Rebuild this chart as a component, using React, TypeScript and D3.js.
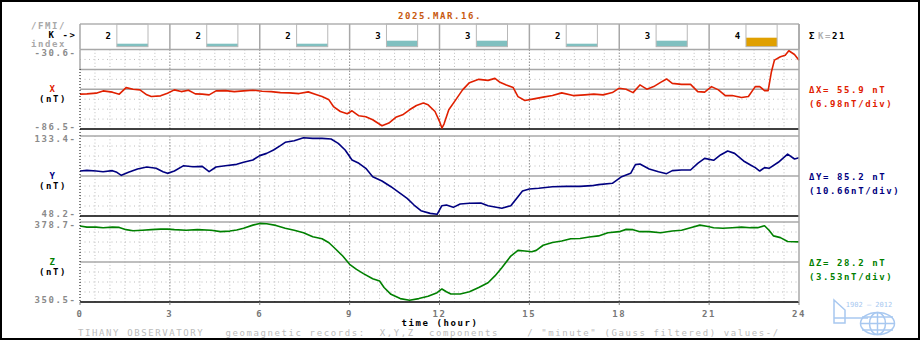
import React from 'react';
import * as d3 from 'd3';

// K-index per 3-hour block
const kIndex = [2, 2, 2, 3, 3, 2, 3, 4];
const kSum = 21;
const hourTicks = [0, 3, 6, 9, 12, 15, 18, 21, 24];

// [hour, nT]
const xComp: [number, number][] = [
  [0, -62.0], [0.23, -61.8], [0.54, -61.3], [0.77, -59.7], [1.08, -60.6], [1.31, -62.0], [1.54, -57.4], [1.77, -58.5],
  [2.0, -59.0], [2.23, -62.5], [2.38, -63.7], [2.69, -63.2], [2.92, -61.3], [3.15, -59.0], [3.38, -60.2], [3.62, -59.2],
  [3.85, -61.8], [4.08, -62.0], [4.31, -62.5], [4.54, -59.7], [4.85, -59.5], [5.15, -60.2], [5.46, -59.7], [5.77, -59.2],
  [6.08, -60.0], [6.38, -60.2], [6.69, -60.9], [7.0, -61.1], [7.31, -61.6], [7.62, -60.4], [7.85, -62.0], [8.08, -63.7],
  [8.31, -66.0], [8.46, -70.7], [8.69, -74.2], [8.92, -75.8], [9.08, -73.7], [9.31, -77.2], [9.54, -77.9], [9.77, -80.0],
  [10.08, -84.2], [10.31, -82.3], [10.54, -78.3], [10.77, -76.5], [11.0, -73.0], [11.23, -70.0], [11.46, -68.3], [11.62, -69.5],
  [11.85, -74.2], [12.0, -81.1], [12.08, -85.8], [12.15, -83.0], [12.31, -73.0], [12.54, -66.0], [12.77, -59.0], [13.0, -53.9],
  [13.31, -51.6], [13.62, -52.3], [13.85, -50.9], [14.0, -53.4], [14.23, -55.5], [14.46, -57.4], [14.62, -63.7], [14.85, -66.5],
  [15.15, -65.3], [15.46, -64.1], [15.77, -63.0], [16.08, -61.1], [16.46, -63.0], [16.85, -62.5], [17.15, -62.0], [17.46, -62.5],
  [17.77, -60.9], [18.0, -57.8], [18.23, -58.5], [18.46, -60.9], [18.69, -55.5], [18.92, -58.5], [19.15, -56.7], [19.38, -53.7],
  [19.58, -51.3], [19.77, -54.4], [20.08, -55.1], [20.38, -55.1], [20.62, -60.2], [20.85, -60.6], [21.08, -56.7], [21.31, -59.0],
  [21.54, -63.0], [21.77, -63.0], [22.08, -64.4], [22.31, -63.7], [22.54, -56.7], [22.69, -56.7], [22.85, -59.5], [22.97, -59.5],
  [23.08, -46.2], [23.18, -38.1], [23.38, -35.7], [23.54, -34.6], [23.66, -31.5], [23.85, -34.1], [24.0, -38.1],
];

const yComp: [number, number][] = [
  [0, 96.1], [0.23, 96.8], [0.54, 96.1], [0.77, 95.4], [1.08, 96.5], [1.23, 94.7], [1.38, 91.5], [1.62, 94.7],
  [1.92, 98.3], [2.23, 100.4], [2.54, 99.0], [2.77, 95.4], [2.92, 93.6], [3.15, 96.1], [3.46, 101.8], [3.77, 100.7],
  [4.08, 101.1], [4.31, 95.4], [4.54, 100.4], [4.85, 101.8], [5.23, 103.2], [5.46, 105.4], [5.77, 107.8], [6.0, 112.5],
  [6.23, 114.9], [6.46, 118.5], [6.69, 123.1], [6.85, 126.7], [7.15, 128.4], [7.46, 131.6], [7.77, 130.9], [8.08, 130.9],
  [8.38, 130.2], [8.62, 125.6], [8.85, 118.5], [9.08, 107.8], [9.31, 104.3], [9.54, 99.0], [9.77, 90.1], [10.08, 85.5],
  [10.38, 79.4], [10.69, 72.3], [10.92, 67.0], [11.15, 59.9], [11.38, 53.9], [11.69, 51.0], [11.92, 50.0], [12.08, 59.2],
  [12.23, 59.9], [12.46, 57.4], [12.69, 61.0], [13.0, 61.7], [13.38, 62.0], [13.62, 59.2], [13.85, 57.8], [14.08, 56.4],
  [14.38, 59.2], [14.62, 68.8], [14.77, 74.8], [15.0, 77.0], [15.31, 77.7], [15.77, 79.4], [16.23, 79.8], [16.69, 79.8],
  [17.08, 80.5], [17.31, 81.6], [17.77, 83.0], [18.08, 90.1], [18.38, 93.6], [18.54, 102.9], [18.69, 103.6], [19.0, 98.3],
  [19.31, 95.4], [19.58, 93.3], [19.77, 96.5], [20.08, 97.2], [20.38, 97.2], [20.62, 104.3], [20.85, 109.6], [21.15, 107.5],
  [21.38, 113.2], [21.62, 117.4], [21.85, 114.9], [22.15, 106.8], [22.38, 102.5], [22.54, 99.7], [22.69, 96.1], [22.85, 99.7],
  [23.0, 99.0], [23.31, 105.4], [23.62, 114.2], [23.85, 108.9], [24.0, 110.3],
];

const zComp: [number, number][] = [
  [0, 377.3], [0.23, 376.9], [0.54, 376.9], [0.77, 376.7], [1.08, 376.9], [1.31, 376.8], [1.54, 376.0], [1.77, 375.6],
  [2.08, 375.8], [2.38, 376.0], [2.69, 376.2], [2.92, 376.2], [3.15, 376.0], [3.54, 375.8], [3.92, 376.0], [4.38, 375.8],
  [4.69, 375.3], [5.0, 375.5], [5.23, 375.9], [5.46, 376.5], [5.77, 377.6], [6.0, 378.2], [6.23, 378.1], [6.54, 377.5],
  [6.85, 376.5], [7.15, 375.8], [7.46, 374.9], [7.77, 373.5], [8.08, 372.8], [8.31, 371.4], [8.54, 369.1], [8.77, 366.7],
  [9.0, 363.8], [9.23, 362.0], [9.46, 360.5], [9.77, 358.7], [10.0, 357.9], [10.15, 355.6], [10.38, 353.2], [10.69, 351.7],
  [11.0, 351.1], [11.31, 351.7], [11.62, 352.5], [11.92, 353.8], [12.08, 355.1], [12.23, 354.1], [12.38, 353.3], [12.69, 353.3],
  [13.0, 354.1], [13.31, 355.6], [13.62, 357.3], [13.85, 359.7], [14.08, 362.6], [14.38, 366.7], [14.62, 368.7], [14.85, 368.5],
  [15.08, 368.2], [15.23, 368.7], [15.46, 370.5], [15.77, 371.5], [16.08, 372.0], [16.38, 372.8], [16.69, 372.9], [17.0, 373.4],
  [17.31, 373.8], [17.62, 374.9], [18.0, 375.3], [18.23, 376.1], [18.46, 376.0], [18.69, 375.3], [19.0, 375.3], [19.38, 374.9],
  [19.77, 375.5], [20.08, 375.8], [20.38, 376.7], [20.69, 377.6], [20.92, 377.2], [21.15, 376.7], [21.46, 376.5], [21.77, 376.7],
  [22.08, 376.9], [22.38, 376.7], [22.62, 376.7], [22.85, 377.4], [23.0, 375.8], [23.15, 373.8], [23.38, 373.2], [23.62, 371.8],
  [24.0, 371.7],
];

const xLimits = [-86.5, -30.6];
const yLimits = [48.2, 133.4];
const zLimits = [350.5, 378.7];

const FONT = "'DejaVu Sans Mono', 'Liberation Mono', monospace";
const GRAY = '#8a8a8a';

const x = d3.scaleLinear().domain([0, 24]).range([80, 799]);
const kScale = d3.scaleLinear().domain([1, 9]).range([0, 24]);

const panels = [
  { name: 'X', data: xComp, lim: xLimits, top: 49.5, bottom: 129, color: '#e02000', solid: [0, 2, 4],
    topLbl: '-30.6-', botLbl: '-86.5-', delta: '55.9', perDiv: '6.98' },
  { name: 'Y', data: yComp, lim: yLimits, top: 136, bottom: 216, color: '#000080', solid: [0, 4],
    topLbl: '133.4-', botLbl: '48.2-', delta: '85.2', perDiv: '10.66' },
  { name: 'Z', data: zComp, lim: zLimits, top: 222, bottom: 302, color: '#008000', solid: [0, 4],
    topLbl: '378.7-', botLbl: '350.5-', delta: '28.2', perDiv: '3.53' },
];

const txt = { fontFamily: FONT, fontSize: 9, letterSpacing: 1.6, fontWeight: 700 } as const;

const Panel = ({ p }: { p: typeof panels[number] }) => {
  const y = d3.scaleLinear().domain(p.lim).range([p.bottom, p.top]);
  const line = d3.line<[number, number]>().x(d => x(d[0])).y(d => y(d[1]));
  const divs = d3.range(0, 9);
  const step = (p.bottom - p.top) / 8;
  const halfHours = d3.range(0.5, 24, 0.5);
  const mid = (p.top + p.bottom) / 2;
  return (
    <g>
      {halfHours.map(h => (
        <line key={'v' + h} x1={x(h)} x2={x(h)} y1={p.top} y2={p.bottom}
          stroke={h % 3 === 0 ? '#8c8c8c' : '#bdbdbd'} strokeDasharray={h % 3 === 0 ? '1.5,1.5' : '1,2.3'} />
      ))}
      {divs.map(i => {
        const yy = p.top + i * step;
        if (i === 8) return <line key={i} x1={80} x2={799} y1={yy} y2={yy} stroke="#000" strokeWidth={1.5} />;
        const solid = p.solid.includes(i);
        return <line key={i} x1={80} x2={799} y1={yy} y2={yy}
          stroke={solid ? '#a8a8a8' : '#bdbdbd'} strokeWidth={solid ? 1.5 : 1} strokeDasharray={solid ? undefined : '1,3.5'} />;
      })}
      <path d={line(p.data) || ''} fill="none" stroke={p.color} strokeWidth={1.6} strokeLinejoin="round" />
      <text x={76.5} y={p.top + 6} textAnchor="end" fill={GRAY} {...txt}>{p.topLbl}</text>
      <text x={76.5} y={p.bottom + 0.5} textAnchor="end" fill={GRAY} {...txt}>{p.botLbl}</text>
      <text x={53} y={mid + 3} textAnchor="middle" fill={p.color} {...txt}>{p.name}</text>
      <text x={53} y={mid + 13} textAnchor="middle" fill="#000" {...txt}>(nT)</text>
      <text x={809} y={mid + 4} fill={p.color} {...txt}>{`Δ${p.name}= ${p.delta} nT`}</text>
      <text x={809} y={mid + 18} fill={p.color} {...txt}>{`(${p.perDiv}nT/div)`}</text>
    </g>
  );
};

export default function App() {
  return (
    <svg width={920} height={340} style={{ position: 'absolute', left: 0, top: 0, background: '#fff' }}>
      <rect x={1} y={1} width={918} height={338} fill="#fff" stroke="#000" strokeWidth={2} />
      <text x={440} y={19} textAnchor="middle" fill="#c85a10" {...txt}>2025.MAR.16.</text>

      {/* K-index strip */}
      <line x1={80} x2={799} y1={24} y2={24} stroke="#b0b0b0" strokeWidth={1.5} />
      {kIndex.map((k, i) => {
        const b0 = x(i * 3 + 1.23), b1 = x(i * 3 + 2.27);
        const h = kScale(k);
        return (
          <g key={'k' + i}>
            <rect x={b0} y={46.7 - h} width={b1 - b0} height={h} fill={k >= 4 ? '#e0a000' : '#80c0c0'} />
            <rect x={b0} y={24} width={b1 - b0} height={22.7} fill="none" stroke="#b8b8b8" strokeWidth={1} />
            <text x={x(i * 3 + 0.97)} y={38.5} textAnchor="middle" fill="#000" {...txt}>{k}</text>
          </g>
        );
      })}
      {hourTicks.map(h => (
        <line key={'kc' + h} x1={x(h)} x2={x(h)} y1={24} y2={49.5} stroke="#a8a8a8" strokeWidth={1.5} />
      ))}
      <text x={31} y={29} fill="#a8a8a8" {...txt}>/FMI/</text>
      <text x={76.5} y={38} textAnchor="end" fill="#000" {...txt}>K -&gt;</text>
      <text x={31} y={46.5} fill="#a8a8a8" {...txt}>index</text>
      <text x={809} y={39} {...txt}>
        <tspan fill="#000">Σ</tspan><tspan fill="#b0b0b0" dx={2}>K=</tspan><tspan fill="#000">{kSum}</tspan>
      </text>

      {panels.map(p => <Panel key={p.name} p={p} />)}

      {/* frame edges */}
      <line x1={80} x2={80} y1={49.5} y2={69} stroke="#a8a8a8" strokeWidth={1.5} />
      <line x1={80} x2={80} y1={69} y2={302} stroke="#000" strokeDasharray="1,2" />
      <line x1={799} x2={799} y1={24} y2={302} stroke="#a8a8a8" strokeWidth={1.5} />

      {/* time axis */}
      {hourTicks.map(h => (
        <g key={'t' + h}>
          <line x1={x(h)} x2={x(h)} y1={302} y2={305} stroke="#808080" />
          <text x={x(h)} y={316.5} textAnchor="middle" fill="#777" {...txt}>{h}</text>
        </g>
      ))}
      <text x={440} y={325.5} textAnchor="middle" fill="#000" {...txt}>time (hour)</text>
      <text x={78} y={336} fill="#bcbcbc" style={{ whiteSpace: 'pre' }} fontFamily={FONT} fontSize={9} letterSpacing={1.6}>
        {'TIHANY OBSERVATORY   geomagnetic records:  X,Y,Z  components    / "minute" (Gauss filtered) values-/'}
      </text>

      {/* observatory logo */}
      <g stroke="#a8c8f0" fill="none" strokeWidth={1.5}>
        <path d="M834,300 L845,310 L845,323 L834,323 Z" />
        <line x1={834} x2={868} y1={318} y2={318} />
        <ellipse cx={877.5} cy={323.5} rx={17} ry={11} />
        <ellipse cx={877.5} cy={323.5} rx={8} ry={11} />
        <line x1={860.5} x2={894.5} y1={323.5} y2={323.5} />
        <line x1={862} x2={893} y1={317} y2={317} />
        <line x1={862} x2={893} y1={330} y2={330} />
        <line x1={877.5} x2={877.5} y1={312.5} y2={334.5} />
      </g>
      <text x={869} y={307} textAnchor="middle" fill="#a8c8f0" fontFamily={FONT} fontSize={7}>1902 — 2012</text>
    </svg>
  );
}
